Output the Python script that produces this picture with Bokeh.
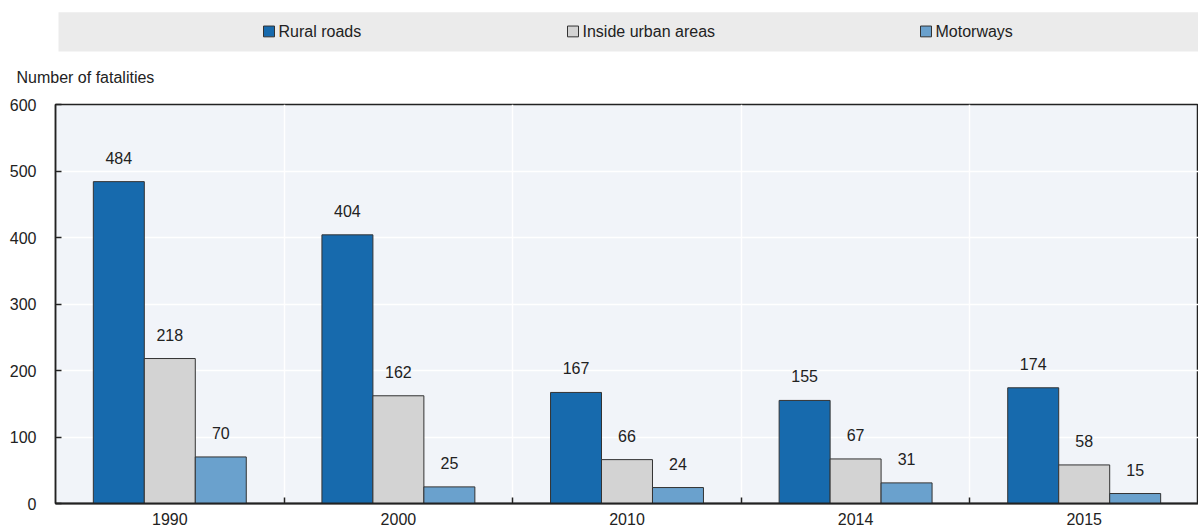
from bokeh.plotting import figure
from bokeh.layouts import column
from bokeh.models import Range1d, FixedTicker, Title
from bokeh.core.properties import value
from bokeh.embed import file_html
from bokeh.resources import INLINE

# ---- data ----
years = ["1990", "2000", "2010", "2014", "2015"]
series = ["Rural roads", "Inside urban areas", "Motorways"]
rural = [484, 404, 167, 155, 174]
urban = [218, 162, 66, 67, 58]
motorways = [70, 25, 24, 31, 15]
y_label = "Number of fatalities"

colors = ["#176aad", "#d3d3d3", "#6aa1cd"]
FONT = "Liberation Sans"
TXT = "#222222"
W = 1198
LEFT = 55

# ---- legend strip (separate figure above the chart; data units = page pixels) ----
LH = 96      # whole strip height
LF = 56      # height of its frame (band area); below it sits the y-axis caption
leg = figure(width=W, height=LH, x_range=Range1d(LEFT, W), y_range=Range1d(LF, 0),
             output_backend="svg", toolbar_location=None,
             min_border_left=LEFT, min_border_right=0, min_border_top=0, min_border_bottom=LH - LF,
             x_axis_location=None, y_axis_location=None)
leg.grid.visible = False
leg.outline_line_color = None
leg.background_fill_color = None
leg.border_fill_color = None
leg.quad(left=58, right=W, top=12, bottom=52, fill_color="#ebebeb", line_color=None)
box_x = [268.5, 572.5, 925.5]
txt_x = [278, 582, 935]
leg.rect(x=box_x, y=31.5, width=11, height=11, fill_color=colors, line_color="#333333", line_width=1)
leg.text(x=txt_x, y=[31.5] * 3, text=series, text_baseline="middle", text_align="left",
         text_font=value(FONT), text_font_size="16px", text_color=TXT)
leg.add_layout(Title(text=y_label, align="left", offset=16 - LEFT, standoff=22,
                     text_font=FONT, text_font_size="16px", text_font_style="normal",
                     text_color=TXT), "below")

# ---- main chart ----
n = len(years)
p = figure(width=W, height=527 - LH, x_range=Range1d(0, n), y_range=Range1d(0, 600),
           output_backend="svg", toolbar_location=None,
           min_border_left=LEFT, min_border_right=0, min_border_top=104 - LH, min_border_bottom=24)
p.background_fill_color = "#f1f4f9"
p.border_fill_color = "white"
p.outline_line_color = "#222222"
p.outline_line_width = 1.5

bw = 0.223
for j, vals in enumerate([rural, urban, motorways]):
    xs = [i + 0.5 + (j - 1) * bw for i in range(n)]
    p.vbar(x=xs, top=vals, width=bw, fill_color=colors[j], line_color="#333333", line_width=1)
    p.text(x=xs, y=vals, text=[str(v) for v in vals], text_align="center", text_baseline="bottom",
           y_offset=-18, text_font=value(FONT), text_font_size="16px", text_color=TXT)

centers = [i + 0.5 for i in range(n)]
p.xaxis.ticker = FixedTicker(ticks=centers, minor_ticks=[float(i) for i in range(1, n)])
p.xaxis.major_label_overrides = {c: y for c, y in zip(centers, years)}
p.xaxis.major_tick_line_color = None
p.xaxis.major_tick_in = 0
p.xaxis.major_tick_out = 0
p.xaxis.minor_tick_in = 6
p.xaxis.minor_tick_out = 0
p.xaxis.minor_tick_line_color = "#222222"
p.xaxis.minor_tick_line_width = 1.5
p.xaxis.axis_line_color = "#222222"
p.xaxis.axis_line_width = 2
p.xaxis.major_label_standoff = 9

p.yaxis.ticker = FixedTicker(ticks=[0, 100, 200, 300, 400, 500, 600])
p.yaxis.major_tick_in = 6
p.yaxis.major_tick_out = 0
p.yaxis.major_tick_line_color = "#222222"
p.yaxis.major_tick_line_width = 1.5
p.yaxis.minor_tick_line_color = None
p.yaxis.axis_line_color = "#222222"
p.yaxis.axis_line_width = 1.5
p.yaxis.major_label_standoff = 19

for ax in (p.xaxis, p.yaxis):
    ax.major_label_text_font = FONT
    ax.major_label_text_font_size = "16px"
    ax.major_label_text_color = TXT

p.xgrid.ticker = FixedTicker(ticks=[float(i) for i in range(1, n)])
p.xgrid.grid_line_color = "white"
p.xgrid.grid_line_width = 1.5
p.ygrid.grid_line_color = "white"
p.ygrid.grid_line_width = 1.5

layout = column(leg, p, spacing=0)
open("out.html", "w").write(file_html(layout, INLINE))
